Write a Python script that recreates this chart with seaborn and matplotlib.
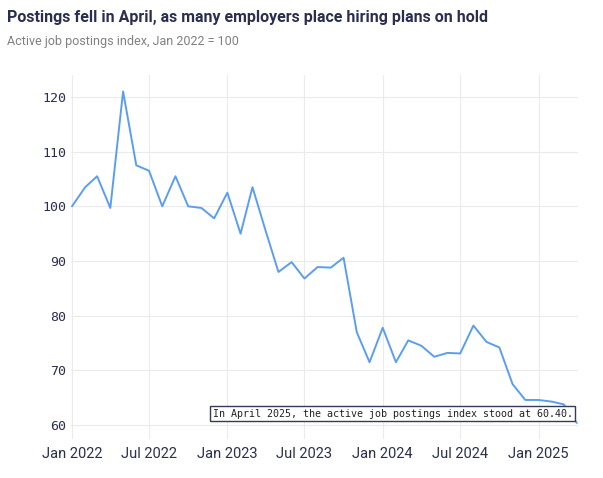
import matplotlib.pyplot as plt
import seaborn as sns
import pandas as pd
import numpy as np

months = pd.date_range("2022-01-01", "2025-04-01", freq="MS")
index_values = [100, 103.5, 105.5, 99.7, 121, 107.5, 106.5, 100, 105.5, 100,
                99.7, 97.8, 102.5, 95, 103.5, 95.5, 88, 89.8, 86.8, 88.9,
                88.8, 90.6, 77, 71.5, 77.8, 71.5, 75.5, 74.5, 72.5, 73.2,
                73.1, 78.2, 75.2, 74.2, 67.5, 64.6, 64.6, 64.3, 63.8, 60.4]
tick_dates = pd.to_datetime(["2022-01-01", "2022-07-01", "2023-01-01", "2023-07-01",
                             "2024-01-01", "2024-07-01", "2025-01-01"])
tick_labels = ["Jan 2022", "Jul 2022", "Jan 2023", "Jul 2023", "Jan 2024", "Jul 2024", "Jan 2025"]

df = pd.DataFrame({"month": months, "value": index_values})

sns.set_style("white")
fig = plt.figure(figsize=(6.03, 4.78), dpi=100)
ax = fig.add_axes([0.118, 0.082, 0.84, 0.761])
sns.lineplot(data=df, x="month", y="value", color="#5b9ef0", linewidth=1.4, ax=ax)

ax.set_ylim(57.5, 124)
ax.set_yticks([60, 70, 80, 90, 100, 110, 120])
ax.set_xlim(months[0] - pd.Timedelta(days=2), months[-1] + pd.Timedelta(days=2))
ax.set_xticks(tick_dates)
ax.set_xticklabels(tick_labels, fontsize=10.5, color="#2a2f4f", family="Roboto")
ax.tick_params(axis="y", labelsize=9.5, labelcolor="#2a2f4f", length=0)
ax.tick_params(axis="x", length=0, pad=6)
for lbl in ax.get_yticklabels():
    lbl.set_fontfamily("DejaVu Sans Mono")
ax.grid(True, color="#ebebeb", linewidth=0.8)
for s in ax.spines.values():
    s.set_visible(False)
ax.set_xlabel("")
ax.set_ylabel("")

ax.annotate("In April 2025, the active job postings index stood at 60.40.",
            xy=(months[-1], index_values[-1]), xytext=(-3, 3), textcoords="offset points",
            ha="right", va="bottom", fontsize=7.2, family="DejaVu Sans Mono", color="#222",
            bbox=dict(boxstyle="square,pad=0.25", fc="white", ec="#333a5a", lw=1))

fig.text(0.012, 0.955, "Postings fell in April, as many employers place hiring plans on hold",
         fontsize=11.5, fontweight="bold", color="#2a2f4f", family="Roboto")
fig.text(0.012, 0.905, "Active job postings index, Jan 2022 = 100", fontsize=9,
         color="#808080", family="Roboto")

fig.savefig("out.png", dpi=100)
